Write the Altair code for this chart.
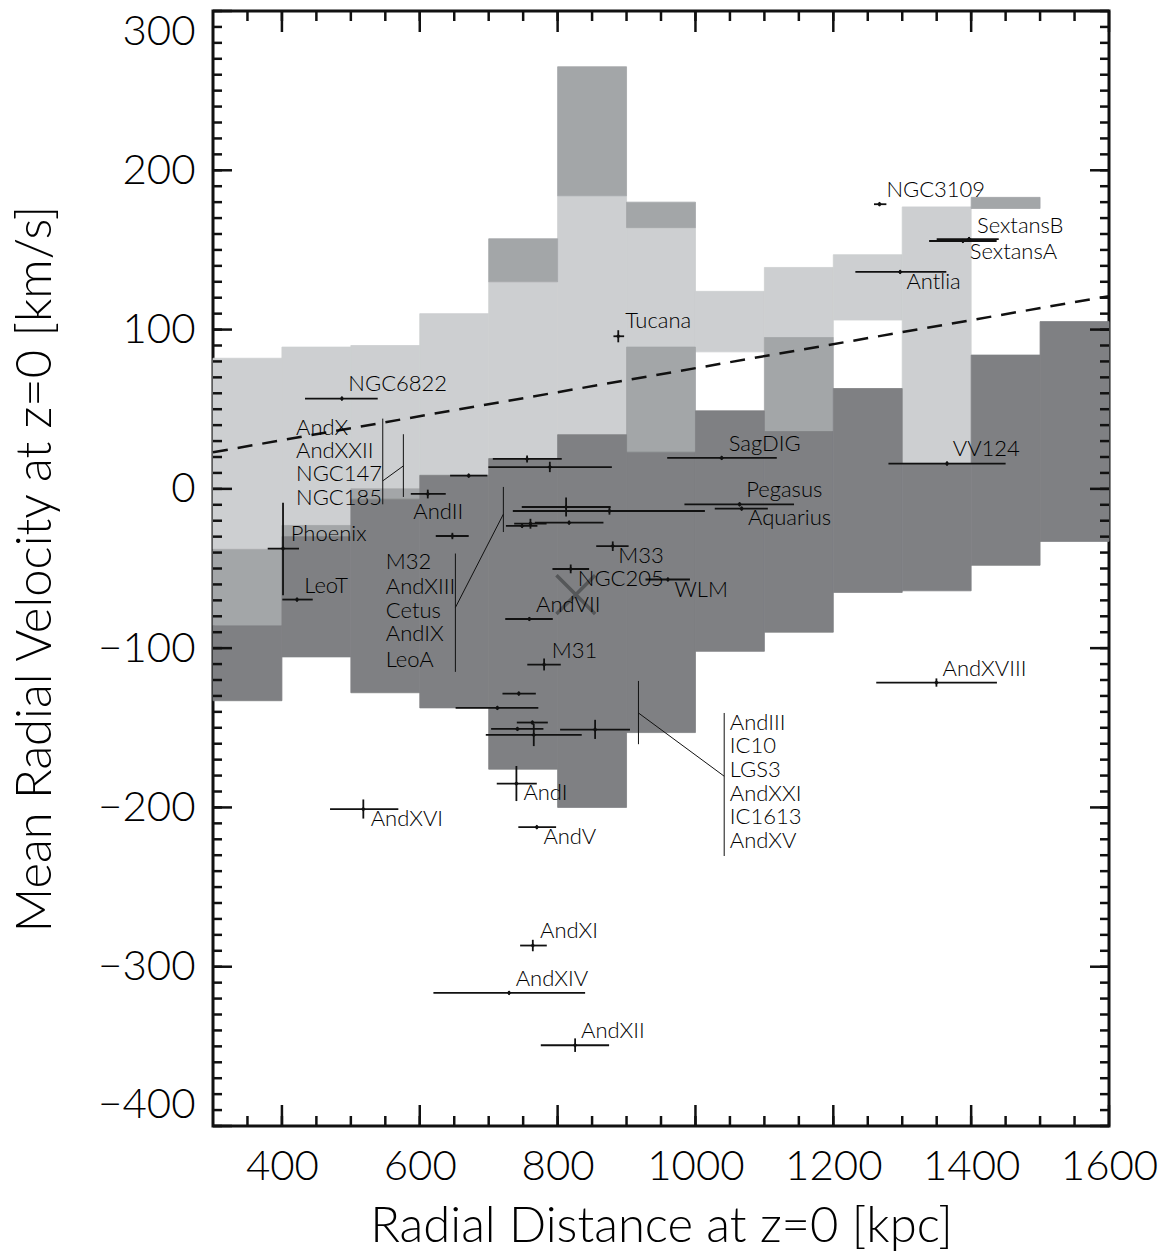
import altair as alt
import pandas as pd

# ---------------- shaded velocity ranges (100-kpc distance bins) ----------------
light_x1 = [300, 400, 500, 600, 700, 800, 900, 1000, 1100, 1200, 1300]
light_x2 = [400, 500, 600, 700, 800, 900, 1000, 1100, 1200, 1300, 1400]
light_top = [82, 89, 90, 110, 130, 184, 164, 124, 139, 147, 177]
light_bot = [-38, -23, 0, 8.5, 19, 34, 89, 86, 95, 106, 16]

medium_x1 = [300, 400, 500, 700, 800, 900, 900, 1100, 1400]
medium_x2 = [400, 500, 600, 800, 900, 1000, 1000, 1200, 1500]
medium_top = [-38, -23, 0, 157, 265, 180, 89, 95, 183]
medium_bot = [-86, -30, -6.5, 130, 184, 164, 23, 36, 176]

dark_x1 = [300, 400, 500, 600, 700, 800, 900, 1000, 1100, 1200, 1300, 1400, 1500]
dark_x2 = [400, 500, 600, 700, 800, 900, 1000, 1100, 1200, 1300, 1400, 1500, 1600]
dark_top = [-86, -30, -6.5, 8.5, 19, 34, 23, 49, 36, 63, 16, 84, 105]
dark_bot = [-133, -105.5, -128, -137.5, -176, -200, -153, -102, -90, -65, -64, -48, -33]

# dashed reference line
line_d = [300, 1600]
line_v = [23, 121]

# ---------------- galaxies: distance / velocity with error bars ----------------
gal_d = [487, 888, 1267, 1397, 1388, 1297, 1038, 1365, 1064, 1067, 880, 819, 960, 759,
         780.4, 611.6, 401.6, 421.9, 755.7, 788.7, 671, 812.3, 875.2, 760.6, 748.5,
         816.7, 647.3, 743.7, 712.6, 763.4, 741.7, 765.4, 854.4, 740.2, 518.1, 769.8,
         764, 729.6, 825.4, 1349.6]
gal_dlo = [433.5, 881, 1259, 1350, 1339, 1232, 959, 1280, 984, 1028, 856, 792.5, 927.5, 724,
           756, 587, 379.4, 400.6, 706, 699.6, 644, 748, 735, 737, 725,
           767, 623.2, 720, 652, 740.8, 703.5, 695.8, 803.6, 711.7, 469.8, 743,
           745.6, 619.8, 775.6, 1262.3]
gal_dhi = [539, 896.5, 1277, 1440, 1437, 1364, 1118, 1450, 1143, 1105, 903, 845.7, 992, 793,
           804.6, 637.7, 424.8, 444.7, 806, 878.7, 698, 877, 1013.7, 784, 770.7,
           866.5, 671, 768.4, 772, 785.8, 779.4, 835, 905, 769.8, 568.9, 797.8,
           784.3, 839.9, 874.7, 1437.4]
gal_v = [56.7, 95.8, 178.7, 156.8, 155.6, 136.2, 19.4, 15.9, -9.7, -12.4, -35.9, -50.3, -56.9, -81.7,
         -110.3, -3.2, -37.5, -69.5, 18.8, 13.7, 8.3, -11.4, -13.9, -21.8, -23.3,
         -21.2, -29.6, -128.5, -137.5, -146.7, -150.7, -154.5, -151.1, -185, -201.1, -212.4,
         -286.7, -316.4, -349.3, -121.6]
gal_vlo = [55.5, 92, 177.5, 155.5, 154.4, 135, 18.2, 14.7, -10.9, -13.6, -39, -53, -58.1, -82.9,
           -114, -6, -66.8, -70.7, 16.5, 10.5, 7.1, -17.3, -16.2, -25, -24.5,
           -22.4, -31.6, -129.7, -138.7, -147.9, -151.9, -161.5, -157, -196, -207, -213.6,
           -290.3, -317.6, -353.5, -124.2]
gal_vhi = [57.9, 99.6, 179.9, 158.1, 156.8, 137.4, 20.6, 17.1, -8.5, -11.2, -33, -47.5, -55.7, -80.5,
           -106.5, -0.5, -8.8, -68.3, 21, 17, 9.5, -5.5, -11.6, -18.8, -22.1,
           -20, -27.6, -127.3, -136.3, -145.5, -149.5, -147.5, -145, -174, -195, -211.2,
           -283.1, -315.2, -345, -119]

# the grey cross
cross_d = [826.4]
cross_v = [-66.4]

# ---------------- text labels ----------------
lab_text = ["NGC6822", "AndX", "AndXXII", "NGC147", "NGC185", "AndII", "Phoenix", "LeoT",
            "M32", "AndXIII", "Cetus", "AndIX", "LeoA", "NGC205", "AndVII", "M31", "M33",
            "WLM", "SagDIG", "Pegasus", "Aquarius", "VV124", "AndXVIII",
            "AndIII", "IC10", "LGS3", "AndXXI", "IC1613", "AndXV",
            "Tucana", "NGC3109", "SextansB", "SextansA", "Antlia",
            "AndI", "AndXVI", "AndV", "AndXI", "AndXIV", "AndXII"]
lab_d = [496.4, 420.5, 420.5, 420.5, 420.5, 590.7, 412.8, 432.5,
         550.7, 550.7, 550.7, 550.7, 550.7, 829.3, 768.8, 791.6, 888,
         969.5, 1048.3, 1073.6, 1076.2, 1373.3, 1358.6,
         1049.9, 1049.9, 1049.9, 1049.9, 1049.9, 1049.9,
         898, 1277, 1408.5, 1398.1, 1306.1,
         750.4, 528.9, 779.4, 774.6, 739.3, 834.1]
lab_v = [66.1, 38.5, 23.8, 9.2, -5.7, -14.5, -28.5, -61.1,
         -45.9, -61.6, -76.8, -91.3, -107.2, -56.3, -73.1, -101.8, -42.3,
         -63.2, 28.4, -0.9, -18.3, 25.3, -112.8,
         -146.7, -161.4, -176.2, -191.3, -206, -221,
         105.4, 187.4, 164.9, 148.7, 129.9,
         -190.9, -207.4, -218.5, -277.5, -307.4, -340.5]

# leader lines for grouped labels (start/end in data units)
lead_d1 = [546.3, 576.2, 546.3, 651.7, 721.3, 651.7, 1041.7, 917.3, 1041.7]
lead_v1 = [44.1, 34.3, 5.0, -40.6, 1.2, -74.5, -140.7, -120.6, -180.4]
lead_d2 = [546.3, 576.2, 576.2, 651.7, 721.3, 721.3, 1041.7, 917.3, 917.3]
lead_v2 = [-9.7, -5.1, 14.4, -114.9, -27.1, -15.9, -230.5, -160.3, -140.7]

# axis tick positions
x_major = [400, 600, 800, 1000, 1200, 1400, 1600]
x_minor = list(range(350, 1600, 50))
y_major = list(range(-400, 301, 100))
y_minor = list(range(-400, 301, 10))

W, H = 896, 1115
FONT = "Lato"
INK = "#111111"

xs = alt.Scale(domain=[300, 1600], nice=False, zero=False)
ys = alt.Scale(domain=[-400, 300], nice=False, zero=False)

x_axis = alt.Axis(values=x_major, ticks=False, domain=False, grid=False,
                  labelFont=FONT, labelFontSize=42, labelFontWeight=300, labelColor="#000",
                  labelPadding=20, labelOverlap=False, labelFlush=False, format="d",
                  title="Radial Distance at z=0 [kpc]",
                  titleFont=FONT, titleFontSize=49, titleFontWeight=300, titleColor="#000",
                  titleY=100, titleBaseline="middle")
y_axis = alt.Axis(values=y_major, ticks=False, domain=False, grid=False,
                  labelFont=FONT, labelFontSize=42, labelFontWeight=300, labelColor="#000",
                  labelPadding=18, labelFlush=True, labelOverlap=False, format="d",
                  title="Mean Radial Velocity at z=0 [km/s]",
                  titleFont=FONT, titleFontSize=49, titleFontWeight=300, titleColor="#000",
                  titleX=-178, titleY=H / 2, titleAngle=-90, titleAlign="center",
                  titleBaseline="middle")


def X(f):
    return alt.X(f, type="quantitative", scale=xs, axis=x_axis)


def Y(f):
    return alt.Y(f, type="quantitative", scale=ys, axis=y_axis)


light_df = pd.DataFrame({"x1": light_x1, "x2": light_x2, "top": light_top, "bot": light_bot})
medium_df = pd.DataFrame({"x1": medium_x1, "x2": medium_x2, "top": medium_top, "bot": medium_bot})
dark_df = pd.DataFrame({"x1": dark_x1, "x2": dark_x2, "top": dark_top, "bot": dark_bot})


def rects(df, color):
    return alt.Chart(df).mark_rect(color=color, stroke=color, strokeWidth=0.8).encode(
        x=X("x1"), x2="x2", y=Y("bot"), y2="top",
    )


layers = [
    rects(light_df, "#cdcfd1"),
    rects(medium_df, "#a3a6a8"),
    rects(dark_df, "#7f8083"),
]

line_df = pd.DataFrame({"d": line_d, "v": line_v})
layers.append(alt.Chart(line_df).mark_line(color=INK, strokeWidth=2.5, strokeDash=[15, 10]).encode(
    x=X("d"), y=Y("v")))

gal_df = pd.DataFrame({"d": gal_d, "dlo": gal_dlo, "dhi": gal_dhi,
                       "v": gal_v, "vlo": gal_vlo, "vhi": gal_vhi})
layers.append(alt.Chart(gal_df).mark_rule(color=INK, strokeWidth=1.8).encode(
    x=X("dlo"), x2="dhi", y=Y("v")))
layers.append(alt.Chart(gal_df).mark_rule(color=INK, strokeWidth=1.8).encode(
    x=X("d"), y=Y("vlo"), y2="vhi"))
layers.append(alt.Chart(gal_df).mark_point(shape="diamond", filled=True, color=INK, size=22, opacity=1).encode(
    x=X("d"), y=Y("v")))

cross_df = pd.DataFrame({"d": cross_d, "v": cross_v})
layers.append(alt.Chart(cross_df).mark_point(shape="M-1,-1L1,1M1,-1L-1,1", filled=False,
                                             color="#555759", strokeWidth=3.5, size=1500, opacity=1).encode(
    x=X("d"), y=Y("v")))

lead_df = pd.DataFrame({"d1": lead_d1, "v1": lead_v1, "d2": lead_d2, "v2": lead_v2})
layers.append(alt.Chart(lead_df).mark_rule(color=INK, strokeWidth=1).encode(
    x=X("d1"), x2="d2", y=Y("v1"), y2="v2"))

lab_df = pd.DataFrame({"t": lab_text, "d": lab_d, "v": lab_v})
layers.append(alt.Chart(lab_df).mark_text(align="left", baseline="middle", font=FONT,
                                          fontSize=22, fontWeight=300, color="#000").encode(
    x=X("d"), y=Y("v"), text="t:N"))

# inward ticks on all four sides
xmaj_df = pd.DataFrame({"t": x_major})
xmin_df = pd.DataFrame({"t": x_minor})
ymaj_df = pd.DataFrame({"t": y_major})
ymin_df = pd.DataFrame({"t": y_minor})
for df, ln in [(xmaj_df, 21), (xmin_df, 10)]:
    layers.append(alt.Chart(df).mark_rule(color="#111", strokeWidth=2.5).encode(
        x=X("t"), y=alt.value(0), y2=alt.value(ln)))
    layers.append(alt.Chart(df).mark_rule(color="#111", strokeWidth=2.5).encode(
        x=X("t"), y=alt.value(H), y2=alt.value(H - ln)))
for df, ln in [(ymaj_df, 19), (ymin_df, 9)]:
    layers.append(alt.Chart(df).mark_rule(color="#111", strokeWidth=2.5).encode(
        y=Y("t"), x=alt.value(0), x2=alt.value(ln)))
    layers.append(alt.Chart(df).mark_rule(color="#111", strokeWidth=2.5).encode(
        y=Y("t"), x=alt.value(W), x2=alt.value(W - ln)))

chart = alt.layer(*layers).properties(
    width=W, height=H,
    autosize=alt.AutoSizeParams(type="none"),
    padding={"left": 213, "top": 11, "right": 61, "bottom": 127},
    background="white",
).configure_view(stroke="#111", strokeWidth=3)

chart.save("out.html", embed_options={"renderer": "svg", "actions": False})
